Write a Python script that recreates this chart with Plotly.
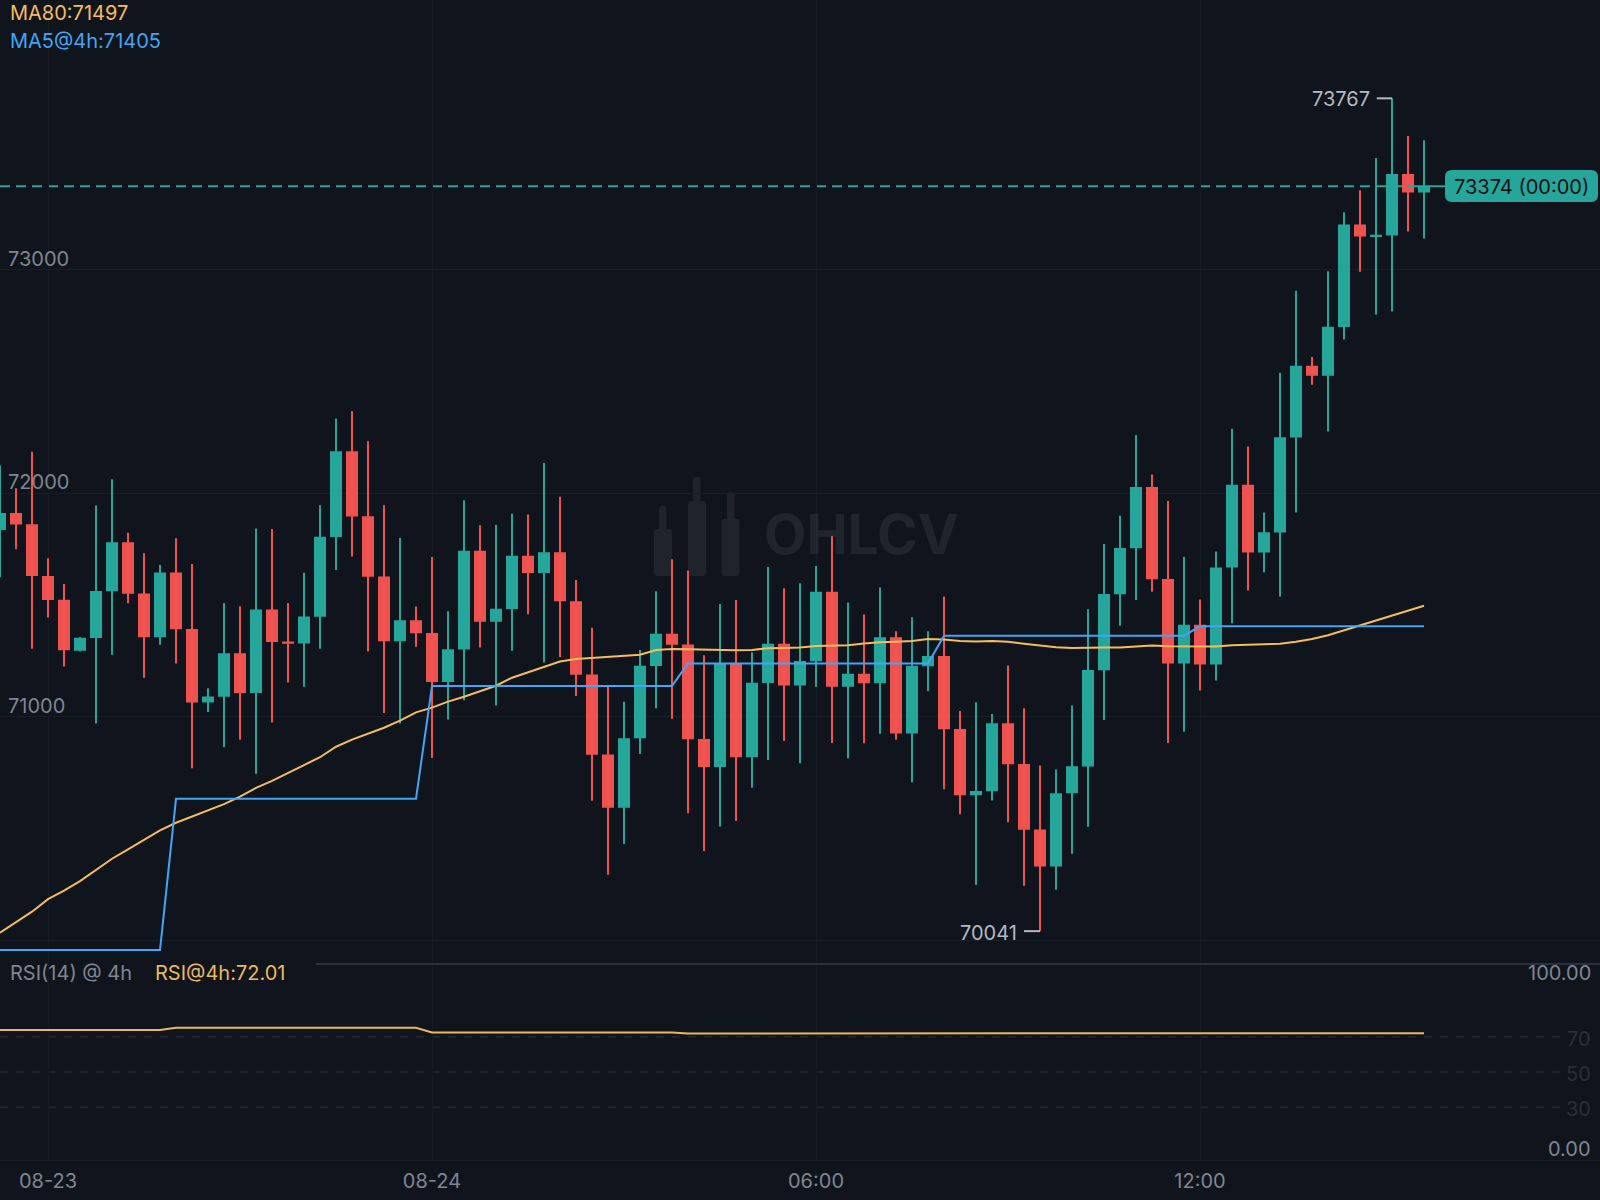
import plotly.graph_objects as go

candle_x = list(range(90))
opens = [71836,71911,71861,71630,71523,71296,71353,71562,71781,71551,71356,71645,71392,71064,71090,71284,71107,71480,71335,71328,
         71448,71805,72188,71897,71627,71338,71432,71374,71156,71302,71742,71426,71483,71720,71644,71736,71517,71189,70831,70594,
         70904,71228,71371,71323,70900,70776,71238,70819,71152,71326,71141,71249,71559,71135,71192,71151,71355,70926,71227,71271,
         70945,70649,70667,70971,70788,70495,70331,70658,70778,71209,71549,71755,72028,71616,71239,71411,71234,71668,72038,71736,
         71825,72250,72570,72526,72745,73202,73149,73154,73428,73346]
highs = [72124,72022,72186,71709,71594,71357,71945,72063,71823,71732,71679,71799,71684,71128,71509,71495,71842,71840,71509,71645,
         71946,72335,72368,72233,71946,71800,71493,71715,71472,71969,71857,71858,71908,71905,72136,71985,71612,71398,71135,71067,
         71299,71562,71705,71654,71275,71505,71523,71289,71670,71575,71597,71675,71808,71511,71458,71579,71383,71445,71383,71538,
         71026,71065,71012,71230,71038,70782,70764,71050,71481,71773,71900,72261,72084,71965,71715,71525,71740,72289,72209,71914,
         72539,72906,72610,72993,73257,73356,73500,73767,73599,73579]
lows = [71624,71750,71305,71444,71225,71292,70970,71278,71508,71175,71322,71238,70770,71022,70865,70897,70745,70974,71153,71134,
        71305,71657,71717,71292,71017,70970,71313,70816,70988,71074,71310,71050,71295,71459,71243,71268,71093,70624,70293,70431,
        70833,71038,70991,70569,70400,70509,70534,70682,70807,70892,70792,71134,70883,70815,70882,70924,70897,70707,71115,70676,
        70564,70248,70625,70528,70244,70041,70226,70387,70508,70986,71407,71523,71560,70883,70933,71118,71162,71418,71565,71647,
        71538,71914,72486,72276,72688,72991,72800,72813,73171,73140]
closes = [71911,71861,71630,71523,71298,71353,71562,71781,71551,71356,71645,71392,71064,71090,71284,71107,71480,71335,71328,71448,
          71805,72188,71897,71627,71338,71432,71374,71156,71302,71742,71426,71483,71720,71644,71736,71517,71189,70831,70594,70904,
          71228,71371,71323,70900,70776,71238,70819,71152,71326,71141,71249,71559,71135,71192,71151,71355,70926,71227,71271,70945,
          70649,70667,70971,70788,70495,70331,70658,70778,71209,71549,71755,72028,71616,71239,71411,71234,71668,72038,71736,71825,
          72250,72570,72526,72745,73202,73149,73154,73428,73346,73374]
ma80 = [70034,70081,70128,70184,70222,70265,70313,70365,70407,70449,70492,70526,70553,70580,70609,70643,70682,70713,70750,70784,
        70819,70866,70898,70926,70951,70983,71020,71041,71068,71090,71115,71139,71175,71199,71224,71247,71259,71264,71268,71271,
        71278,71299,71303,71302,71300,71299,71298,71299,71307,71308,71310,71317,71318,71320,71328,71334,71336,71339,71348,71346,
        71339,71337,71339,71336,71327,71318,71311,71308,71310,71310,71310,71316,71319,71316,71316,71316,71315,71320,71322,71324,
        71327,71336,71348,71365,71387,71411,71431,71452,71474,71497]
ma5_x = [0,10,11,26,27,42,43,58,59,74,75,89]
ma5_values = [69957,69957,70633,70633,71138,71138,71239,71239,71363,71363,71405,71405]
rsi_x = [0,10,11,26,27,42,43,58,59,74,75,89]
rsi_values = [73.8,73.8,75.1,75.1,72.5,72.5,71.9,71.9,71.6,71.6,72.01,72.01]

price_ticks = [71000, 72000, 73000]
price_grid = [70000, 71000, 72000, 73000]
time_ticks = [3, 27, 51, 75]
time_labels = ["08-23", "08-24", "06:00", "12:00"]
rsi_levels = [70, 50, 30]
last_price = 73374
peak_high = 73767
trough_low = 70041

BG = "#10141c"
TEAL = "#26a69a"
RED = "#ef5350"
GOLD = "#f5bd5c"
BLUE = "#42a5f5"
GRID = "#191d25"
VGRID = "#161a22"
MUTED = "#7f8692"
FONT = "Inter"
W, H = 1600, 1200


def px(x):
    return x / W


def py(y):
    return 1 - y / H


def rrect(x0, y0, x1, y1, r, color, layer="below"):
    X0, X1 = px(x0), px(x1)
    Y0, Y1 = py(y0), py(y1)
    rx, ry = r / W, r / H
    path = (f"M {X0+rx} {Y0} L {X1-rx} {Y0} Q {X1} {Y0} {X1} {Y0-ry} L {X1} {Y1+ry} Q {X1} {Y1} {X1-rx} {Y1} "
            f"L {X0+rx} {Y1} Q {X0} {Y1} {X0} {Y1+ry} L {X0} {Y0-ry} Q {X0} {Y0} {X0+rx} {Y0} Z")
    return dict(type="path", path=path, xref="paper", yref="paper", fillcolor=color,
                line=dict(width=0), layer=layer)


def body_inset(o, c, d=4):
    # the 2px body outline grows each body by 1px (about 4 price units) per side
    if abs(c - o) <= 2 * d:
        mid = (o + c) / 2
        return (mid - 0.5, mid + 0.5) if c >= o else (mid + 0.5, mid - 0.5)
    return (o + d, c - d) if c > o else (o - d, c + d)


inset = [body_inset(o, c) for o, c in zip(opens, closes)]

fig = go.Figure()
fig.add_trace(go.Candlestick(
    x=candle_x, open=[v[0] for v in inset], high=highs, low=lows, close=[v[1] for v in inset],
    increasing=dict(line=dict(color=TEAL, width=2), fillcolor=TEAL),
    decreasing=dict(line=dict(color=RED, width=2), fillcolor=RED),
    whiskerwidth=0, hoverinfo="skip", xaxis="x", yaxis="y", showlegend=False,
))
fig.add_trace(go.Scatter(x=candle_x, y=ma80, mode="lines", line=dict(color=GOLD, width=2),
                         hoverinfo="skip", showlegend=False, xaxis="x", yaxis="y"))
fig.add_trace(go.Scatter(x=ma5_x, y=ma5_values, mode="lines", line=dict(color=BLUE, width=2),
                         hoverinfo="skip", showlegend=False, xaxis="x", yaxis="y"))
fig.add_trace(go.Scatter(x=rsi_x, y=rsi_values, mode="lines", line=dict(color="#e9b95c", width=2),
                         hoverinfo="skip", showlegend=False, xaxis="x2", yaxis="y2"))

shapes = []
for bx0, bx1, by0, wx0, wx1, wy0 in [(654, 672, 529, 659, 666.5, 506), (688, 706, 501, 693, 700.5, 477), (721.5, 739.5, 519, 727, 734.5, 492)]:
    shapes.append(rrect(bx0, by0, bx1, 576, 3, "#20232b"))
    shapes.append(rrect(wx0, wy0, wx1, by0 + 2, 3, "#20232b"))
shapes.append(dict(type="line", xref="x", yref="y", x0=0, x1=88, y0=last_price, y1=last_price,
                   line=dict(color=TEAL, width=2, dash="10px,6px"), layer="below"))
shapes.append(dict(type="line", xref="x", yref="y", x0=88, x1=91, y0=last_price, y1=last_price,
                   line=dict(color=TEAL, width=2), layer="above"))
shapes.append(rrect(1445, 170, 1598, 202, 7, TEAL, layer="above"))
shapes.append(dict(type="line", xref="x", yref="y", x0=86.05, x1=87, y0=peak_high, y1=peak_high,
                   line=dict(color="#b4b9c3", width=2)))
shapes.append(dict(type="line", xref="x", yref="y", x0=64, x1=65, y0=trough_low, y1=trough_low,
                   line=dict(color="#b4b9c3", width=2)))
shapes.append(dict(type="line", xref="paper", yref="paper", x0=px(316), x1=1, y0=py(964), y1=py(964),
                   line=dict(color="#2a303c", width=2)))
for lv in rsi_levels:
    shapes.append(dict(type="line", xref="paper", yref="y2", x0=0, x1=px(1560), y0=lv, y1=lv,
                       line=dict(color="#222732", width=1.5, dash="8px,8px"), layer="below"))

ann = []


def label(x, y, text, color=MUTED, size=20, anchor="left", **kw):
    ann.append(dict(xref="paper", yref="paper", x=px(x), y=py(y), text=text, showarrow=False,
                    xanchor=anchor, yanchor="middle", font=dict(family=FONT, size=size, color=color),
                    borderpad=0, **kw))


label(9, 13.5, "MA80:71497", GOLD)
label(9, 41.5, "MA5@4h:71405", BLUE)
label(9, 973, "RSI(14) @ 4h", MUTED)
label(154, 973, "RSI@4h:72.01", "#e9b95c")
label(1592, 973, "100.00", MUTED, anchor="right")
label(1592, 1149, "0.00", MUTED, anchor="right")
for lv in rsi_levels:
    ann.append(dict(xref="paper", yref="y2", x=px(1592), y=lv, text=str(lv), showarrow=False, xanchor="right",
                    yanchor="middle", yshift=-2, borderpad=0, font=dict(family=FONT, size=20, color="#2b2f39")))
for t in price_ticks:
    ann.append(dict(xref="paper", yref="y", x=px(7), y=t, text=str(t), showarrow=False, xanchor="left",
                    yanchor="middle", yshift=11, borderpad=0, font=dict(family=FONT, size=20, color=MUTED)))
ann.append(dict(xref="x", yref="y", x=85.66, y=peak_high, text=str(peak_high), showarrow=False, xanchor="right",
                yanchor="middle", yshift=-1, borderpad=0, font=dict(family=FONT, size=20, color="#b4b9c3")))
ann.append(dict(xref="x", yref="y", x=63.62, y=trough_low, text=str(trough_low), showarrow=False, xanchor="right",
                yanchor="middle", yshift=-2, borderpad=0, font=dict(family=FONT, size=20, color="#b4b9c3")))
ann.append(dict(xref="paper", yref="y", x=px(1521), y=last_price, text=f"{last_price} (00:00)", showarrow=False,
                xanchor="center", yanchor="middle", yshift=-1, borderpad=0, font=dict(family=FONT, size=20, color="#0c1016")))
ann.append(dict(xref="paper", yref="paper", x=px(862), y=py(534), text="<b>OHLCV</b>", showarrow=False,
                xanchor="center", yanchor="middle", borderpad=0,
                font=dict(family=FONT, size=55, color="rgba(255,255,255,0.07)")))

fig.update_layout(
    width=W, height=H, margin=dict(l=0, r=0, t=0, b=0), autosize=False,
    paper_bgcolor=BG, plot_bgcolor=BG, hovermode=False, showlegend=False, boxgap=0.375, boxgroupgap=0,
    shapes=shapes, annotations=ann,
    xaxis=dict(domain=[0, 1], range=[0, 100], anchor="y", tickmode="array", tickvals=time_ticks,
               showticklabels=False, showgrid=True, gridcolor=VGRID, gridwidth=1, zeroline=False,
               rangeslider=dict(visible=False), ticks="", showline=False),
    yaxis=dict(domain=[py(964), 1], range=[69894, 74207], anchor="x", tickmode="array", tickvals=price_grid,
               showticklabels=False, showgrid=True, gridcolor=GRID, gridwidth=1, zeroline=False, ticks=""),
    xaxis2=dict(domain=[0, 1], range=[0, 100], anchor="y2", tickmode="array", tickvals=time_ticks,
                ticktext=time_labels, tickfont=dict(family=FONT, size=20, color=MUTED), showgrid=True,
                gridcolor=VGRID, gridwidth=1, zeroline=False, ticks="", showline=True, linecolor=GRID, linewidth=1,
                ticklabelstandoff=3),
    yaxis2=dict(domain=[py(1160), py(964)], range=[0, 111.36], anchor="x2", showticklabels=False, showgrid=False,
                zeroline=False, ticks=""),
)

fig.write_html("out.html", config=dict(displayModeBar=False),
               post_script="document.body.style.margin='0';document.documentElement.style.background='#10141c';")
